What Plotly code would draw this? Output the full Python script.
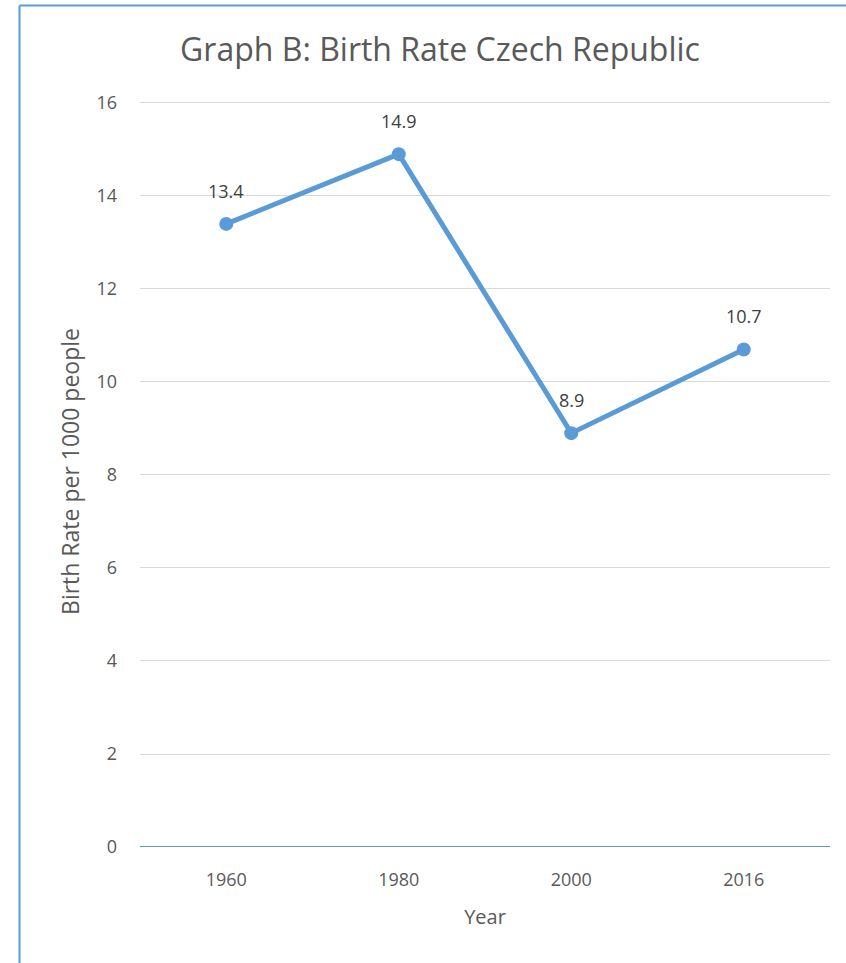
import plotly.graph_objects as go

years = ["1960", "1980", "2000", "2016"]
birth_rate = [13.4, 14.9, 8.9, 10.7]
y_ticks = [0, 2, 4, 6, 8, 10, 12, 14, 16]

W, H = 846, 963
Y_MAX = 16.15
y0_px, y16_px = 847, 103
px_per_unit = (y0_px - y16_px) / 16
L, R, B = 140, 16, H - y0_px
T = y0_px - px_per_unit * Y_MAX
pw, ph = W - L - R, H - T - B

blue = "#5B9BD5"
gray = "#595959"
font = "Open Sans, sans-serif"

fig = go.Figure(go.Scatter(
    x=years, y=birth_rate, mode="lines+markers",
    line=dict(color=blue, width=5),
    marker=dict(color=blue, size=14),
    cliponaxis=False,
))

annotations = [
    dict(x=i, y=v, xref="x", yref="y", text=f"{v:.1f}", showarrow=False,
         yshift=33, font=dict(size=18, color="#404040", family=font))
    for i, v in enumerate(birth_rate)
]

xl = L - 19.5
ytop = 1 + (T - 5.5) / ph

fig.update_layout(
    width=W, height=H,
    margin=dict(l=L, r=R, t=T, b=B),
    paper_bgcolor="white", plot_bgcolor="white",
    showlegend=False,
    title=dict(text="Graph B: Birth Rate Czech Republic", x=440 / W, xanchor="center",
               y=1 - 50 / H, yanchor="middle",
               font=dict(size=32, color=gray, family=font)),
    font=dict(family=font, color=gray),
    annotations=annotations,
    xaxis=dict(type="category", range=[-0.5, 3.5], showgrid=False,
               showline=False, zeroline=False, automargin=False,
               tickfont=dict(size=18, color=gray), ticks="", ticklabelstandoff=20,
               title=dict(text="Year", font=dict(size=20, color=gray), standoff=19)),
    yaxis=dict(range=[0, Y_MAX], tickvals=y_ticks, showgrid=True, gridcolor="#D9D9D9",
               gridwidth=1.3, zeroline=False, showline=False, ticks="", automargin=False,
               tickfont=dict(size=18, color=gray), ticklabelstandoff=22,
               title=dict(text="Birth Rate per 1000 people", font=dict(size=23, color=gray), standoff=10)),
    shapes=[
        dict(type="line", xref="paper", yref="y", x0=0, x1=1, y0=0, y1=0,
             line=dict(color=blue, width=2)),
        dict(type="line", xref="paper", yref="paper", x0=-xl / pw, x1=-xl / pw,
             y0=-1, y1=ytop, line=dict(color=blue, width=2)),
        dict(type="line", xref="paper", yref="paper", x0=-xl / pw, x1=1.5,
             y0=ytop, y1=ytop, line=dict(color=blue, width=2)),
    ],
)

fig.write_html("out.html")
